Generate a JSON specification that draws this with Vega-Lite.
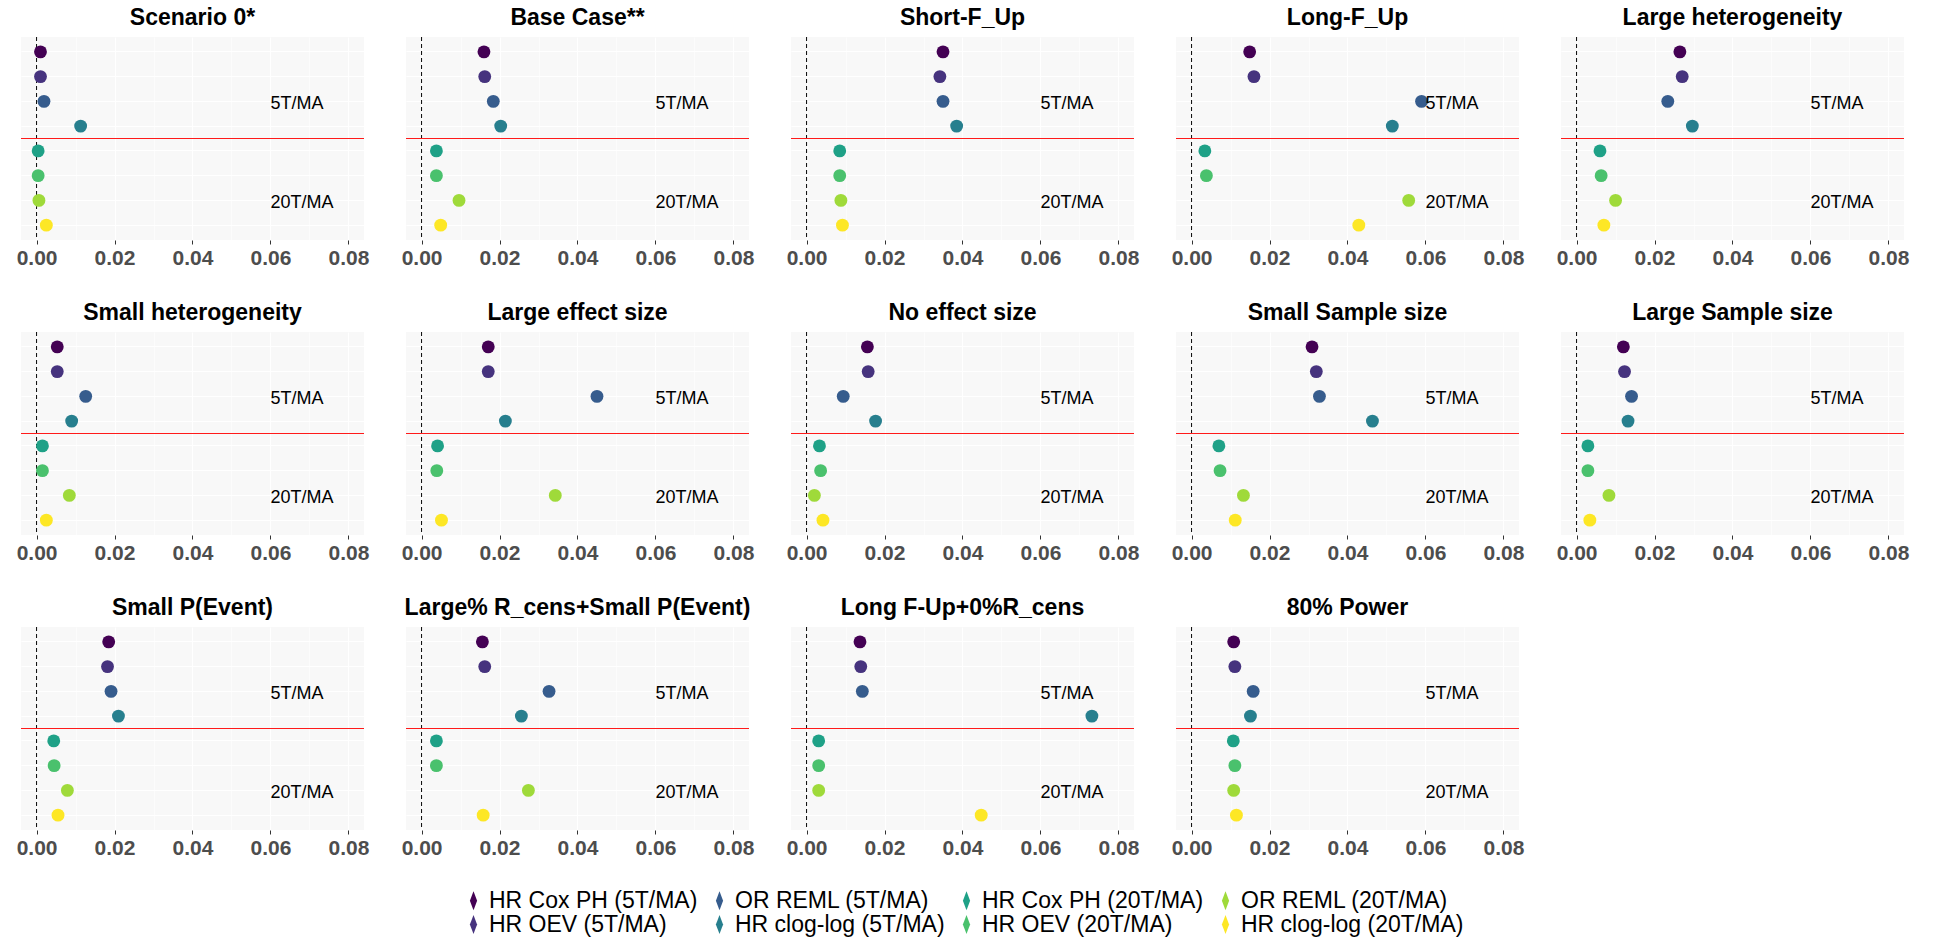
{
  "$schema": "https://vega.github.io/schema/vega-lite/v6.json",
  "background": "white",
  "padding": {"left": 16, "top": 6, "right": 5, "bottom": 2},
  "data": {
    "values": [
      {"scenario": "Scenario 0*", "method": "HR Cox PH (5T/MA)", "group": "5T/MA", "value": 0.001},
      {"scenario": "Scenario 0*", "method": "HR OEV (5T/MA)", "group": "5T/MA", "value": 0.001},
      {"scenario": "Scenario 0*", "method": "OR REML (5T/MA)", "group": "5T/MA", "value": 0.0019},
      {"scenario": "Scenario 0*", "method": "HR clog-log (5T/MA)", "group": "5T/MA", "value": 0.0113},
      {"scenario": "Scenario 0*", "method": "HR Cox PH (20T/MA)", "group": "20T/MA", "value": 0.0004},
      {"scenario": "Scenario 0*", "method": "HR OEV (20T/MA)", "group": "20T/MA", "value": 0.0004},
      {"scenario": "Scenario 0*", "method": "OR REML (20T/MA)", "group": "20T/MA", "value": 0.0006},
      {"scenario": "Scenario 0*", "method": "HR clog-log (20T/MA)", "group": "20T/MA", "value": 0.0025},

      {"scenario": "Base Case**", "method": "HR Cox PH (5T/MA)", "group": "5T/MA", "value": 0.016},
      {"scenario": "Base Case**", "method": "HR OEV (5T/MA)", "group": "5T/MA", "value": 0.0162},
      {"scenario": "Base Case**", "method": "OR REML (5T/MA)", "group": "5T/MA", "value": 0.0184},
      {"scenario": "Base Case**", "method": "HR clog-log (5T/MA)", "group": "5T/MA", "value": 0.0203},
      {"scenario": "Base Case**", "method": "HR Cox PH (20T/MA)", "group": "20T/MA", "value": 0.0038},
      {"scenario": "Base Case**", "method": "HR OEV (20T/MA)", "group": "20T/MA", "value": 0.0038},
      {"scenario": "Base Case**", "method": "OR REML (20T/MA)", "group": "20T/MA", "value": 0.0096},
      {"scenario": "Base Case**", "method": "HR clog-log (20T/MA)", "group": "20T/MA", "value": 0.0049},

      {"scenario": "Short-F_Up", "method": "HR Cox PH (5T/MA)", "group": "5T/MA", "value": 0.035},
      {"scenario": "Short-F_Up", "method": "HR OEV (5T/MA)", "group": "5T/MA", "value": 0.0342},
      {"scenario": "Short-F_Up", "method": "OR REML (5T/MA)", "group": "5T/MA", "value": 0.035},
      {"scenario": "Short-F_Up", "method": "HR clog-log (5T/MA)", "group": "5T/MA", "value": 0.0385},
      {"scenario": "Short-F_Up", "method": "HR Cox PH (20T/MA)", "group": "20T/MA", "value": 0.0085},
      {"scenario": "Short-F_Up", "method": "HR OEV (20T/MA)", "group": "20T/MA", "value": 0.0085},
      {"scenario": "Short-F_Up", "method": "OR REML (20T/MA)", "group": "20T/MA", "value": 0.0088},
      {"scenario": "Short-F_Up", "method": "HR clog-log (20T/MA)", "group": "20T/MA", "value": 0.0092},

      {"scenario": "Long-F_Up", "method": "HR Cox PH (5T/MA)", "group": "5T/MA", "value": 0.0149},
      {"scenario": "Long-F_Up", "method": "HR OEV (5T/MA)", "group": "5T/MA", "value": 0.016},
      {"scenario": "Long-F_Up", "method": "OR REML (5T/MA)", "group": "5T/MA", "value": 0.059},
      {"scenario": "Long-F_Up", "method": "HR clog-log (5T/MA)", "group": "5T/MA", "value": 0.0515},
      {"scenario": "Long-F_Up", "method": "HR Cox PH (20T/MA)", "group": "20T/MA", "value": 0.0034},
      {"scenario": "Long-F_Up", "method": "HR OEV (20T/MA)", "group": "20T/MA", "value": 0.0038},
      {"scenario": "Long-F_Up", "method": "OR REML (20T/MA)", "group": "20T/MA", "value": 0.0557},
      {"scenario": "Long-F_Up", "method": "HR clog-log (20T/MA)", "group": "20T/MA", "value": 0.0429},

      {"scenario": "Large heterogeneity", "method": "HR Cox PH (5T/MA)", "group": "5T/MA", "value": 0.0265},
      {"scenario": "Large heterogeneity", "method": "HR OEV (5T/MA)", "group": "5T/MA", "value": 0.0271},
      {"scenario": "Large heterogeneity", "method": "OR REML (5T/MA)", "group": "5T/MA", "value": 0.0234},
      {"scenario": "Large heterogeneity", "method": "HR clog-log (5T/MA)", "group": "5T/MA", "value": 0.0297},
      {"scenario": "Large heterogeneity", "method": "HR Cox PH (20T/MA)", "group": "20T/MA", "value": 0.006},
      {"scenario": "Large heterogeneity", "method": "HR OEV (20T/MA)", "group": "20T/MA", "value": 0.0063},
      {"scenario": "Large heterogeneity", "method": "OR REML (20T/MA)", "group": "20T/MA", "value": 0.01},
      {"scenario": "Large heterogeneity", "method": "HR clog-log (20T/MA)", "group": "20T/MA", "value": 0.007},

      {"scenario": "Small heterogeneity", "method": "HR Cox PH (5T/MA)", "group": "5T/MA", "value": 0.0053},
      {"scenario": "Small heterogeneity", "method": "HR OEV (5T/MA)", "group": "5T/MA", "value": 0.0053},
      {"scenario": "Small heterogeneity", "method": "OR REML (5T/MA)", "group": "5T/MA", "value": 0.0126},
      {"scenario": "Small heterogeneity", "method": "HR clog-log (5T/MA)", "group": "5T/MA", "value": 0.009},
      {"scenario": "Small heterogeneity", "method": "HR Cox PH (20T/MA)", "group": "20T/MA", "value": 0.0015},
      {"scenario": "Small heterogeneity", "method": "HR OEV (20T/MA)", "group": "20T/MA", "value": 0.0015},
      {"scenario": "Small heterogeneity", "method": "OR REML (20T/MA)", "group": "20T/MA", "value": 0.0084},
      {"scenario": "Small heterogeneity", "method": "HR clog-log (20T/MA)", "group": "20T/MA", "value": 0.0025},

      {"scenario": "Large effect size", "method": "HR Cox PH (5T/MA)", "group": "5T/MA", "value": 0.0171},
      {"scenario": "Large effect size", "method": "HR OEV (5T/MA)", "group": "5T/MA", "value": 0.0171},
      {"scenario": "Large effect size", "method": "OR REML (5T/MA)", "group": "5T/MA", "value": 0.045},
      {"scenario": "Large effect size", "method": "HR clog-log (5T/MA)", "group": "5T/MA", "value": 0.0215},
      {"scenario": "Large effect size", "method": "HR Cox PH (20T/MA)", "group": "20T/MA", "value": 0.0041},
      {"scenario": "Large effect size", "method": "HR OEV (20T/MA)", "group": "20T/MA", "value": 0.0039},
      {"scenario": "Large effect size", "method": "OR REML (20T/MA)", "group": "20T/MA", "value": 0.0343},
      {"scenario": "Large effect size", "method": "HR clog-log (20T/MA)", "group": "20T/MA", "value": 0.0051},

      {"scenario": "No effect size", "method": "HR Cox PH (5T/MA)", "group": "5T/MA", "value": 0.0156},
      {"scenario": "No effect size", "method": "HR OEV (5T/MA)", "group": "5T/MA", "value": 0.0158},
      {"scenario": "No effect size", "method": "OR REML (5T/MA)", "group": "5T/MA", "value": 0.0094},
      {"scenario": "No effect size", "method": "HR clog-log (5T/MA)", "group": "5T/MA", "value": 0.0177},
      {"scenario": "No effect size", "method": "HR Cox PH (20T/MA)", "group": "20T/MA", "value": 0.0033},
      {"scenario": "No effect size", "method": "HR OEV (20T/MA)", "group": "20T/MA", "value": 0.0036},
      {"scenario": "No effect size", "method": "OR REML (20T/MA)", "group": "20T/MA", "value": 0.002},
      {"scenario": "No effect size", "method": "HR clog-log (20T/MA)", "group": "20T/MA", "value": 0.0042},

      {"scenario": "Small Sample size", "method": "HR Cox PH (5T/MA)", "group": "5T/MA", "value": 0.0309},
      {"scenario": "Small Sample size", "method": "HR OEV (5T/MA)", "group": "5T/MA", "value": 0.032},
      {"scenario": "Small Sample size", "method": "OR REML (5T/MA)", "group": "5T/MA", "value": 0.0328},
      {"scenario": "Small Sample size", "method": "HR clog-log (5T/MA)", "group": "5T/MA", "value": 0.0464},
      {"scenario": "Small Sample size", "method": "HR Cox PH (20T/MA)", "group": "20T/MA", "value": 0.007},
      {"scenario": "Small Sample size", "method": "HR OEV (20T/MA)", "group": "20T/MA", "value": 0.0073},
      {"scenario": "Small Sample size", "method": "OR REML (20T/MA)", "group": "20T/MA", "value": 0.0133},
      {"scenario": "Small Sample size", "method": "HR clog-log (20T/MA)", "group": "20T/MA", "value": 0.0112},

      {"scenario": "Large Sample size", "method": "HR Cox PH (5T/MA)", "group": "5T/MA", "value": 0.012},
      {"scenario": "Large Sample size", "method": "HR OEV (5T/MA)", "group": "5T/MA", "value": 0.0123},
      {"scenario": "Large Sample size", "method": "OR REML (5T/MA)", "group": "5T/MA", "value": 0.0141},
      {"scenario": "Large Sample size", "method": "HR clog-log (5T/MA)", "group": "5T/MA", "value": 0.0132},
      {"scenario": "Large Sample size", "method": "HR Cox PH (20T/MA)", "group": "20T/MA", "value": 0.0029},
      {"scenario": "Large Sample size", "method": "HR OEV (20T/MA)", "group": "20T/MA", "value": 0.0029},
      {"scenario": "Large Sample size", "method": "OR REML (20T/MA)", "group": "20T/MA", "value": 0.0083},
      {"scenario": "Large Sample size", "method": "HR clog-log (20T/MA)", "group": "20T/MA", "value": 0.0034},

      {"scenario": "Small P(Event)", "method": "HR Cox PH (5T/MA)", "group": "5T/MA", "value": 0.0185},
      {"scenario": "Small P(Event)", "method": "HR OEV (5T/MA)", "group": "5T/MA", "value": 0.0182},
      {"scenario": "Small P(Event)", "method": "OR REML (5T/MA)", "group": "5T/MA", "value": 0.0191},
      {"scenario": "Small P(Event)", "method": "HR clog-log (5T/MA)", "group": "5T/MA", "value": 0.021},
      {"scenario": "Small P(Event)", "method": "HR Cox PH (20T/MA)", "group": "20T/MA", "value": 0.0044},
      {"scenario": "Small P(Event)", "method": "HR OEV (20T/MA)", "group": "20T/MA", "value": 0.0045},
      {"scenario": "Small P(Event)", "method": "OR REML (20T/MA)", "group": "20T/MA", "value": 0.0079},
      {"scenario": "Small P(Event)", "method": "HR clog-log (20T/MA)", "group": "20T/MA", "value": 0.0055},

      {"scenario": "Large% R_cens+Small P(Event)", "method": "HR Cox PH (5T/MA)", "group": "5T/MA", "value": 0.0156},
      {"scenario": "Large% R_cens+Small P(Event)", "method": "HR OEV (5T/MA)", "group": "5T/MA", "value": 0.0162},
      {"scenario": "Large% R_cens+Small P(Event)", "method": "OR REML (5T/MA)", "group": "5T/MA", "value": 0.0327},
      {"scenario": "Large% R_cens+Small P(Event)", "method": "HR clog-log (5T/MA)", "group": "5T/MA", "value": 0.0256},
      {"scenario": "Large% R_cens+Small P(Event)", "method": "HR Cox PH (20T/MA)", "group": "20T/MA", "value": 0.0038},
      {"scenario": "Large% R_cens+Small P(Event)", "method": "HR OEV (20T/MA)", "group": "20T/MA", "value": 0.0038},
      {"scenario": "Large% R_cens+Small P(Event)", "method": "OR REML (20T/MA)", "group": "20T/MA", "value": 0.0274},
      {"scenario": "Large% R_cens+Small P(Event)", "method": "HR clog-log (20T/MA)", "group": "20T/MA", "value": 0.0158},

      {"scenario": "Long F-Up+0%R_cens", "method": "HR Cox PH (5T/MA)", "group": "5T/MA", "value": 0.0137},
      {"scenario": "Long F-Up+0%R_cens", "method": "HR OEV (5T/MA)", "group": "5T/MA", "value": 0.0139},
      {"scenario": "Long F-Up+0%R_cens", "method": "OR REML (5T/MA)", "group": "5T/MA", "value": 0.0143},
      {"scenario": "Long F-Up+0%R_cens", "method": "HR clog-log (5T/MA)", "group": "5T/MA", "value": 0.0732},
      {"scenario": "Long F-Up+0%R_cens", "method": "HR Cox PH (20T/MA)", "group": "20T/MA", "value": 0.0031},
      {"scenario": "Long F-Up+0%R_cens", "method": "HR OEV (20T/MA)", "group": "20T/MA", "value": 0.0031},
      {"scenario": "Long F-Up+0%R_cens", "method": "OR REML (20T/MA)", "group": "20T/MA", "value": 0.0031},
      {"scenario": "Long F-Up+0%R_cens", "method": "HR clog-log (20T/MA)", "group": "20T/MA", "value": 0.0448},

      {"scenario": "80% Power", "method": "HR Cox PH (5T/MA)", "group": "5T/MA", "value": 0.0108},
      {"scenario": "80% Power", "method": "HR OEV (5T/MA)", "group": "5T/MA", "value": 0.0111},
      {"scenario": "80% Power", "method": "OR REML (5T/MA)", "group": "5T/MA", "value": 0.0158},
      {"scenario": "80% Power", "method": "HR clog-log (5T/MA)", "group": "5T/MA", "value": 0.0151},
      {"scenario": "80% Power", "method": "HR Cox PH (20T/MA)", "group": "20T/MA", "value": 0.0107},
      {"scenario": "80% Power", "method": "HR OEV (20T/MA)", "group": "20T/MA", "value": 0.0111},
      {"scenario": "80% Power", "method": "OR REML (20T/MA)", "group": "20T/MA", "value": 0.0108},
      {"scenario": "80% Power", "method": "HR clog-log (20T/MA)", "group": "20T/MA", "value": 0.0115}
    ]
  },
  "facet": {
    "field": "scenario",
    "type": "nominal",
    "sort": ["Scenario 0*", "Base Case**", "Short-F_Up", "Long-F_Up", "Large heterogeneity", "Small heterogeneity", "Large effect size", "No effect size", "Small Sample size", "Large Sample size", "Small P(Event)", "Large% R_cens+Small P(Event)", "Long F-Up+0%R_cens", "80% Power"],
    "header": {"title": null, "labelFontSize": 23, "labelFontWeight": "bold", "labelFont": "Liberation Sans", "labelColor": "black", "labelPadding": 7}
  },
  "columns": 5,
  "spacing": {"row": 33, "column": 32},
  "resolve": {"axis": {"x": "independent", "y": "independent"}},
  "spec": {
    "width": 343,
    "height": 203,
    "encoding": {
      "y": {
        "field": "method",
        "type": "nominal",
        "title": null,
        "scale": {"type": "band", "paddingInner": 0, "paddingOuter": 0.1, "domain": ["HR Cox PH (5T/MA)", "HR OEV (5T/MA)", "OR REML (5T/MA)", "HR clog-log (5T/MA)", "HR Cox PH (20T/MA)", "HR OEV (20T/MA)", "OR REML (20T/MA)", "HR clog-log (20T/MA)"]},
        "axis": {"title": null, "labels": false, "ticks": false, "domain": false, "grid": true, "gridColor": "white", "gridWidth": 1.2, "bandPosition": 0.5}
      }
    },
    "layer": [
      {
        "transform": [{"filter": "datum.method === 'HR Cox PH (5T/MA)'"}],
        "mark": {"type": "rule", "color": "black", "strokeDash": [4, 3], "strokeWidth": 1},
        "encoding": {
          "y": null,
          "x": {
            "datum": 0,
            "type": "quantitative",
            "title": null,
            "scale": {"domain": [-0.004, 0.084], "nice": false, "zero": false},
            "axis": {
              "title": null,
              "values": [0, 0.01, 0.02, 0.03, 0.04, 0.05, 0.06, 0.07, 0.08],
              "labelExpr": "round(datum.value * 100) % 2 === 0 ? format(datum.value, '.2f') : ''",
              "labelFont": "Liberation Sans",
              "labelFontSize": 21,
              "labelFontWeight": "bold",
              "labelColor": "#4D4D4D",
              "labelFlush": false,
              "labelOverlap": false,
              "labelPadding": 3,
              "domain": false,
              "tickSize": 4,
              "tickWidth": 1,
              "tickColor": {"condition": {"test": "round(datum.value * 100) % 2 === 1", "value": "rgba(0,0,0,0)"}, "value": "#333333"},
              "grid": true,
              "gridColor": "white",
              "gridWidth": {"condition": {"test": "round(datum.value * 100) % 2 === 1", "value": 0.6}, "value": 1.2}
            }
          }
        }
      },
      {
        "transform": [{"filter": "datum.method === 'HR clog-log (5T/MA)'"}],
        "mark": {"type": "rule", "color": "#FF1A1A", "strokeWidth": 1.2},
        "encoding": {
          "y": {"field": "method", "type": "nominal", "bandPosition": 1}
        }
      },
      {
        "mark": {"type": "circle", "size": 165, "opacity": 1},
        "encoding": {
          "x": {"field": "value", "type": "quantitative", "title": null},
          "color": {
            "field": "method",
            "type": "nominal",
            "scale": {
              "domain": ["HR Cox PH (5T/MA)", "OR REML (5T/MA)", "HR Cox PH (20T/MA)", "OR REML (20T/MA)", "HR OEV (5T/MA)", "HR clog-log (5T/MA)", "HR OEV (20T/MA)", "HR clog-log (20T/MA)"],
              "range": ["#440154", "#365C8D", "#1FA187", "#9FDA3A", "#46337E", "#277F8E", "#4AC16D", "#FDE725"]
            },
            "legend": {
              "title": null,
              "orient": "bottom",
              "direction": "horizontal",
              "columns": 4,
              "symbolType": "M0,-1L0.38,0L0,1L-0.38,0Z",
              "symbolSize": 360,
              "symbolStrokeWidth": 0,
              "labelFont": "Liberation Sans",
              "labelFontSize": 23,
              "labelColor": "black",
              "labelLimit": 0,
              "labelOffset": 4,
              "rowPadding": 0,
              "columnPadding": 10,
              "offset": 31
            }
          }
        }
      },
      {
        "transform": [{"filter": "datum.method === 'OR REML (5T/MA)' || datum.method === 'OR REML (20T/MA)'"}],
        "mark": {"type": "text", "align": "left", "baseline": "middle", "dy": 3, "font": "Liberation Sans", "fontSize": 18, "color": "black"},
        "encoding": {
          "x": {"datum": 0.06, "type": "quantitative"},
          "text": {"field": "group"}
        }
      }
    ]
  },
  "config": {
    "font": "Liberation Sans",
    "view": {"fill": "#F8F8F8", "stroke": null},
    "legend": {"layout": {"bottom": {"anchor": "middle"}}}
  }
}
